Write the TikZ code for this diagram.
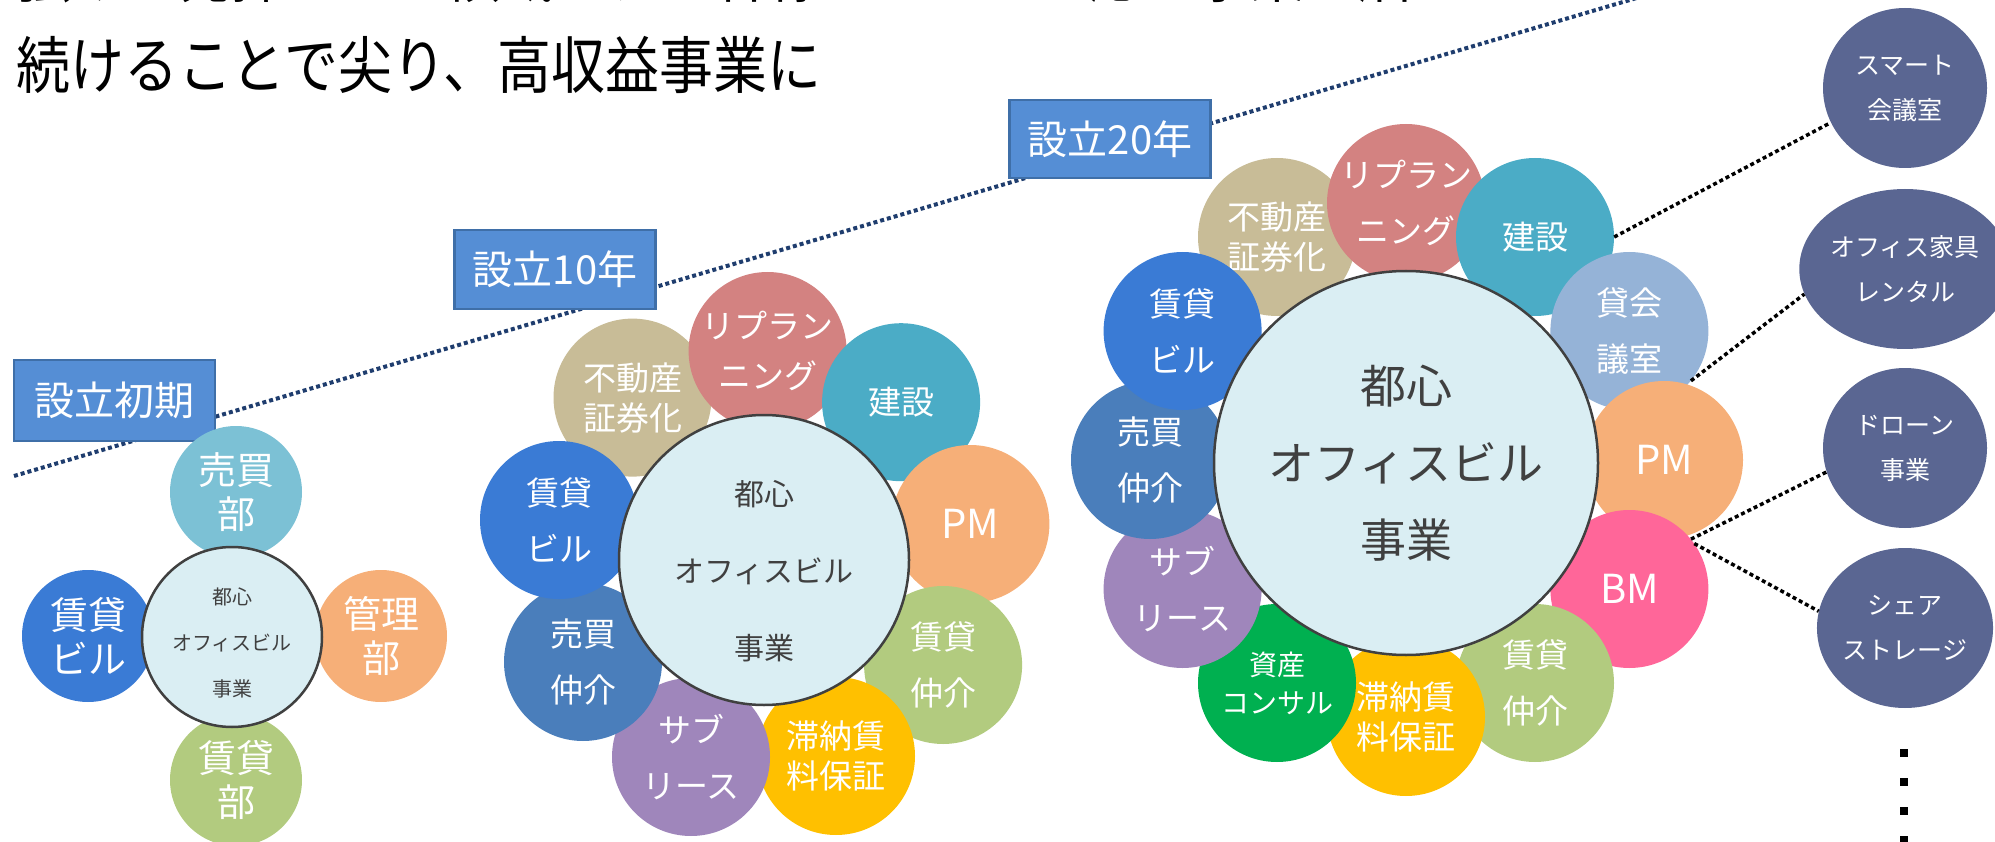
\documentclass[tikz,border=0pt]{standalone}
\usepackage{fontspec}
\setmainfont{Noto Sans CJK JP}
\newfontfamily\titlefont[FakeStretch=0.87]{Noto Sans CJK JP}
\usetikzlibrary{shapes.geometric}
\definecolor{trendnavy}{HTML}{1F3D6E}
\definecolor{boxfill}{HTML}{558ED5}
\definecolor{boxline}{HTML}{3F6FA8}
\definecolor{hubfill}{HTML}{DAEEF3}
\definecolor{hubline}{HTML}{404040}
\definecolor{hubtext}{HTML}{404040}
\definecolor{cTan}{HTML}{C8BC97}
\definecolor{cRose}{HTML}{D38281}
\definecolor{cTeal}{HTML}{4BACC6}
\definecolor{cOrange}{HTML}{F6AF78}
\definecolor{cGreen}{HTML}{B2CB7F}
\definecolor{cGold}{HTML}{FFC000}
\definecolor{cPurple}{HTML}{9F86BB}
\definecolor{cSteel}{HTML}{4A7EBB}
\definecolor{cBlue}{HTML}{3A7BD5}
\definecolor{cLavBlue}{HTML}{95B3D7}
\definecolor{cPink}{HTML}{FF6699}
\definecolor{cEmerald}{HTML}{00B050}
\definecolor{cSky}{HTML}{7CC1D5}
\definecolor{cSlate}{HTML}{5A6692}
\begin{document}
\begin{tikzpicture}[x=1pt,y=-1pt,
  petal/.style={circle, inner sep=0pt, text=white, align=center, fill=#1},
  bigpetal/.style={petal=#1, minimum size=158pt},
  smallpetal/.style={petal=#1, minimum size=132pt, font=\fontsize{38}{44}\selectfont},
  ftwo/.style={font=\fontsize{33}{56}\selectfont},
  fthree/.style={font=\fontsize{33}{40}\selectfont},
  fkana/.style={font=\fontsize{33}{50}\selectfont},
  flatin/.style={font=\fontsize{40}{40}\selectfont},
  hub/.style={circle, inner sep=0pt, fill=hubfill, draw=hubline, line width=2.5pt},
  hubtxt/.style={text=hubtext, align=center, inner sep=0pt},
  yearbox/.style={rectangle, fill=boxfill, draw=boxline, line width=2.5pt, text=white,
    minimum width=201pt, font=\fontsize{40}{40}\selectfont, inner sep=0pt},
  trend/.style={draw=trendnavy, line width=4pt, dash pattern=on 4pt off 3pt},
  link/.style={draw=black, line width=3.5pt, dash pattern=on 4pt off 3pt},
  newbiz/.style={ellipse, inner sep=0pt, fill=cSlate, text=white, align=center,
    minimum width=164pt, minimum height=160pt, font=\fontsize{25}{45}\selectfont},
  more/.style={rectangle, fill=black, inner sep=0pt, minimum width=8pt, minimum height=8pt},
  title/.style={anchor=base west, inner sep=0pt, font=\titlefont\fontsize{62}{62}\selectfont}
]
\useasboundingbox (0,0) rectangle (1995,842);
\clip (0,0) rectangle (1995,842);

% title lines (first line cut off at the top)
\node[title] (t1) at (16,-2) {強みを発揮できる領域で、お客様のニーズに応え事業を磨き};
\node[title] (t2) at (16,89) {続けることで尖り、高収益事業に};

% trend line
\coordinate (ts) at (14,476);
\coordinate (te) at (1640,-3);
\draw[trend] (ts) -- (te);

% year boxes
\node[yearbox, minimum height=81pt] (y0) at (114.5,400.5) {設立初期};
\node[yearbox, minimum height=79pt] (y10) at (555,269.5) {設立10年};
\node[yearbox, minimum height=78pt] (y20) at (1110,139) {設立20年};

% ---------- flower 1 ----------
\node[smallpetal=cSky] (a1) at (236,492) {売買\\部};
\node[smallpetal=cBlue] (a2) at (88,636) {賃貸\\ビル};
\node[smallpetal=cOrange] (a3) at (381,636) {管理\\部};
\node[smallpetal=cGreen] (a4) at (236,780) {賃貸\\部};
\node[hub, minimum size=180pt] (h1) at (232,637) {};
\node[hubtxt, font=\fontsize{20}{46}\selectfont] (h1t) at (232,643) {都心\\オフィスビル\\事業};

% ---------- flower 2 ----------
\node[bigpetal=cTan, fthree] (b1) at (632.5,397.6) {不動産\\証券化};
\node[bigpetal=cRose, fkana] (b2) at (767.6,351) {リプラン\\ニング};
\node[bigpetal=cTeal, ftwo] (b3) at (901.1,402.2) {建設};
\node[bigpetal=cOrange, flatin] (b4) at (970.4,524) {PM};
\node[bigpetal=cGreen, ftwo] (b5) at (943.1,665) {賃貸\\仲介};
\node[bigpetal=cGold, fthree] (b6) at (836,756) {滞納賃\\料保証};
\node[bigpetal=cPurple, ftwo] (b7) at (691,757) {サブ\\リース};
\node[bigpetal=cSteel, ftwo] (b8) at (583,662) {売買\\仲介};
\node[bigpetal=cBlue, ftwo] (b9) at (559,520) {賃貸\\ビル};
\node[hub, minimum size=290pt] (h2) at (764,560) {};
\node[hubtxt, font=\fontsize{30}{77}\selectfont] (h2t) at (764,571) {都心\\オフィスビル\\事業};

% ---------- flower 3 ----------
\node[bigpetal=cTan, fthree] (k1) at (1277,237) {不動産\\証券化};
\node[bigpetal=cRose, ftwo] (k2) at (1406,203) {リプラン\\ニング};
\node[bigpetal=cTeal, ftwo] (k3) at (1535,237) {建設};
\node[bigpetal=cLavBlue, ftwo] (k4) at (1629.4,331) {貸会\\議室};
\node[bigpetal=cOrange, flatin] (k5) at (1664,460) {PM};
\node[bigpetal=cPink, flatin] (k6) at (1629.4,589) {BM};
\node[bigpetal=cGreen, ftwo] (k7) at (1535,683) {賃貸\\仲介};
\node[bigpetal=cGold, fthree] (k8) at (1406,717) {滞納賃\\料保証};
\node[bigpetal=cEmerald, font=\fontsize{28}{38}\selectfont] (k9) at (1277,683) {資産\\コンサル};
\node[bigpetal=cPurple, ftwo] (k10) at (1182.6,589) {サブ\\リース};
\node[bigpetal=cSteel, ftwo] (k11) at (1150,460) {売買\\仲介};
\node[bigpetal=cBlue, ftwo] (k12) at (1182.6,331) {賃貸\\ビル};
\node[hub, minimum size=384pt] (h3) at (1406,463) {};
\node[hubtxt, font=\fontsize{46}{77}\selectfont] (h3t) at (1406,463) {都心\\オフィスビル\\事業};

% ---------- new businesses ----------
\node[newbiz] (n1) at (1905,88) {スマート\\会議室};
\node[newbiz] (n2) at (1905,269) {オフィス家具\\レンタル};
\node[newbiz] (n3) at (1905,448) {ドローン\\事業};
\node[newbiz] (n4) at (1905,628) {シェア\\ストレージ};

\draw[link] (k3.0) -- (n1.205);
\draw[link] (k4.-39) -- (n2.194);
\draw[link] (k6.39) -- (n3.197);
\draw[link] (k6.35) -- (n4.169);

\node[more] (m1) at (1904,753) {};
\node[more] (m2) at (1904,782) {};
\node[more] (m3) at (1904,811) {};
\node[more] (m4) at (1904,840) {};
\end{tikzpicture}
\end{document}
